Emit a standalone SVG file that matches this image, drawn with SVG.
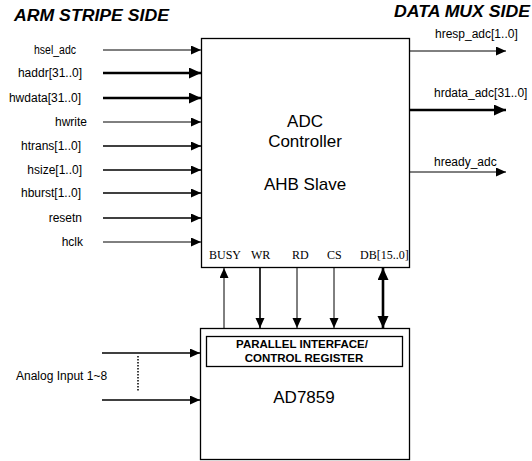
<svg xmlns="http://www.w3.org/2000/svg" width="532" height="461" viewBox="0 0 532 461">
<defs>
<style>
.box{fill:#fff;stroke:#000;stroke-width:1.3}
.sans{font-family:"Liberation Sans",Arial,sans-serif;fill:#000}
.serif{font-family:"Liberation Serif","Times New Roman",serif;fill:#000;font-size:12px}
.lbl{font-size:12px}
.title{font-size:16px;font-weight:bold;font-style:italic}
.big{font-size:17px;text-anchor:middle}
.reg{font-size:11.5px;font-weight:bold;text-anchor:middle}
.w1{stroke:#000;stroke-width:1;fill:none;marker-end:url(#ah)}
.w2{stroke:#000;stroke-width:1.6;fill:none;marker-end:url(#ah)}
.w3{stroke:#000;stroke-width:2.6;fill:none;marker-end:url(#ahb)}
</style>
<marker id="ah" markerUnits="userSpaceOnUse" markerWidth="11" markerHeight="10" refX="10" refY="4.5" orient="auto-start-reverse" viewBox="0 0 11 10">
<path d="M0,0 L10,4.5 L0,9 Z" fill="#000"/>
</marker>
<marker id="ahb" markerUnits="userSpaceOnUse" markerWidth="13" markerHeight="12" refX="12" refY="5.5" orient="auto-start-reverse" viewBox="0 0 13 12">
<path d="M0,0 L12,5.5 L0,11 Z" fill="#000"/>
</marker>
</defs>
<rect width="532" height="461" fill="#fff"/>
<text class="sans title" x="14" y="21" textLength="155" lengthAdjust="spacingAndGlyphs">ARM STRIPE SIDE</text>
<text class="sans title" x="394" y="17" textLength="136" lengthAdjust="spacingAndGlyphs">DATA MUX SIDE</text>
<g id="adc-controller">
<rect class="box" x="201.5" y="38.5" width="208" height="229"/>
<text class="sans big" x="305" y="127">ADC</text>
<text class="sans big" x="305" y="147">Controller</text>
<text class="sans big" x="305" y="190">AHB Slave</text>
<text class="serif" x="209" y="259">BUSY</text>
<text class="serif" x="251" y="259">WR</text>
<text class="serif" x="292" y="259">RD</text>
<text class="serif" x="327" y="259">CS</text>
<text class="serif" x="360" y="259">DB[15..0]</text>
</g>
<g id="ad7859">
<rect class="box" x="200.5" y="328.5" width="209" height="131"/>
<rect class="box" x="206.5" y="336.5" width="196" height="30"/>
<text class="sans reg" x="302" y="347.5">PARALLEL INTERFACE/</text>
<text class="sans reg" x="304" y="362">CONTROL REGISTER</text>
<text class="sans big" x="304" y="403">AD7859</text>
</g>
<g id="labels" class="sans lbl" text-anchor="end">
<text x="76" y="54" textLength="42" lengthAdjust="spacingAndGlyphs">hsel_adc</text>
<text x="82" y="77">haddr[31..0]</text>
<text x="81" y="102">hwdata[31..0]</text>
<text x="87" y="126">hwrite</text>
<text x="81" y="150">htrans[1..0]</text>
<text x="82" y="174">hsize[1..0]</text>
<text x="81" y="197">hburst[1..0]</text>
<text x="82" y="222">resetn</text>
<text x="83" y="246">hclk</text>
</g>
<g class="sans lbl">
<text x="435" y="38">hresp_adc[1..0]</text>
<text x="434" y="97">hrdata_adc[31..0]</text>
<text x="434" y="166">hready_adc</text>
<text x="16" y="380">Analog Input 1~8</text>
</g>
<g id="connectors">
<path class="w1" d="M103,50 H201"/>
<path class="w3" d="M103,73 H201"/>
<path class="w3" d="M103,98 H201"/>
<path class="w1" d="M103,122 H201"/>
<path class="w2" d="M103,146 H201"/>
<path class="w2" d="M103,170 H201"/>
<path class="w2" d="M103,193 H201"/>
<path class="w2" d="M103,218 H201"/>
<path class="w1" d="M103,242 H201"/>
<path class="w1" d="M409,51 H506"/>
<path class="w3" d="M409,110 H506"/>
<path class="w1" d="M409,172 H506"/>
<path class="w1" d="M224,328 V268"/>
<path class="w2" d="M260,268 V328"/>
<path class="w1" d="M297,268 V328"/>
<path class="w1" d="M334,268 V328"/>
<path class="w3" d="M383,268 V328" style="marker-start:url(#ahb)"/>
<path class="w2" d="M102,353 H200"/>
<path class="w2" d="M102,400 H200"/>
<path d="M138,356 V392" stroke="#000" stroke-width="1.5" stroke-dasharray="1.5,1.5" fill="none"/>
</g>
</svg>
